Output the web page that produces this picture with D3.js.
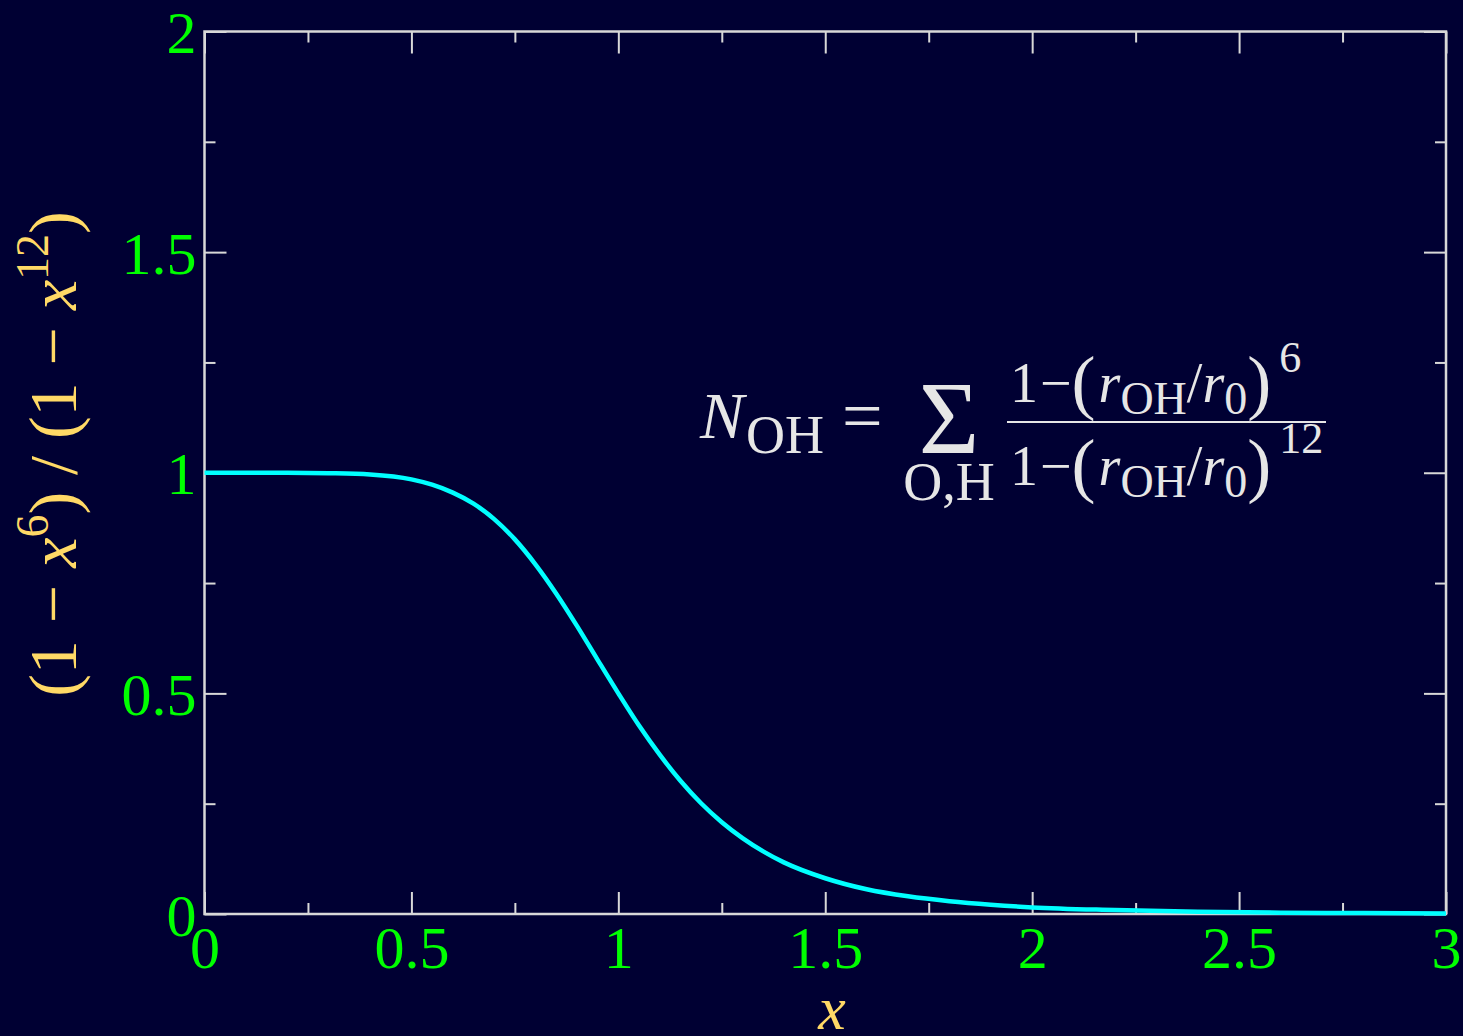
<!DOCTYPE html>
<html>
<head>
<meta charset="utf-8">
<script src="https://cdn.jsdelivr.net/npm/d3@7"></script>
<style>
  html, body { margin: 0; padding: 0; background: #000033; }
  svg { display: block; }
</style>
</head>
<body>
<svg id="chart" width="1463" height="1036"></svg>
<script>
// Switching function (1 - x^6) / (1 - x^12), sampled along x
const xValues = [0, 0.1, 0.2, 0.3, 0.4, 0.5, 0.55, 0.6, 0.65, 0.7, 0.75, 0.8, 0.85, 0.9, 0.95,
                 1.0, 1.05, 1.1, 1.15, 1.2, 1.25, 1.3, 1.35, 1.4, 1.5, 1.6, 1.7, 1.8, 1.9,
                 2.0, 2.2, 2.4, 2.6, 2.8, 3.0];
const yValues = [1.000, 1.000, 1.000, 0.999, 0.996, 0.985, 0.973, 0.955, 0.930, 0.895, 0.849, 0.792, 0.726, 0.653, 0.576,
                 0.500, 0.427, 0.361, 0.302, 0.251, 0.208, 0.172, 0.142, 0.117, 0.081, 0.056, 0.040, 0.029, 0.021,
                 0.015, 0.009, 0.005, 0.003, 0.002, 0.001];

// Axis ticks and their labels
const xMajorTicks = [0, 0.5, 1, 1.5, 2, 2.5, 3];
const xTickLabels = ["0", "0.5", "1", "1.5", "2", "2.5", "3"];
const xMinorTicks = [0.25, 0.75, 1.25, 1.75, 2.25, 2.75];
const yMajorTicks = [0, 0.5, 1, 1.5, 2];
const yTickLabels = ["0", "0.5", "1", "1.5", "2"];
const yMinorTicks = [0.25, 0.75, 1.25, 1.75];

const COLORS = {
  bg: "#000033",
  frame: "#d8d8d8",
  tick: "#00ff00",
  label: "#ffd966",
  curve: "#00ffff",
  note: "#e6e6e6"
};
const SERIF = "'Liberation Serif', 'DejaVu Serif', serif";

const svg = d3.select("#chart");
svg.append("rect").attr("width", 1463).attr("height", 1036).attr("fill", COLORS.bg);

const plot = { left: 204.5, right: 1446, top: 31.5, bottom: 914 };
const x = d3.scaleLinear().domain([0, 3]).range([plot.left, plot.right]);
const y = d3.scaleLinear().domain([0, 2]).range([plot.bottom, plot.top]);

const MAJOR = 22, MINOR = 11;

function styleAxis(g) {
  g.select(".domain").remove();
  g.selectAll(".tick line").attr("stroke", COLORS.frame).attr("stroke-width", 2);
}

// bottom axis with labels
const gBottom = svg.append("g").attr("transform", `translate(0,${plot.bottom})`)
  .call(d3.axisBottom(x).tickValues(xMajorTicks).tickSize(-MAJOR)
        .tickFormat((d, i) => xTickLabels[i]));
styleAxis(gBottom);
gBottom.selectAll(".tick text")
  .attr("y", 54).attr("dy", 0)
  .attr("fill", COLORS.tick).attr("font-family", SERIF).attr("font-size", 60);
svg.append("g").attr("transform", `translate(0,${plot.bottom})`)
  .call(d3.axisBottom(x).tickValues(xMinorTicks).tickSize(-MINOR).tickFormat(""))
  .call(styleAxis);

// top axis
svg.append("g").attr("transform", `translate(0,${plot.top})`)
  .call(d3.axisTop(x).tickValues(xMajorTicks).tickSize(-MAJOR).tickFormat(""))
  .call(styleAxis);
svg.append("g").attr("transform", `translate(0,${plot.top})`)
  .call(d3.axisTop(x).tickValues(xMinorTicks).tickSize(-MINOR).tickFormat(""))
  .call(styleAxis);

// left axis with labels
const gLeft = svg.append("g").attr("transform", `translate(${plot.left},0)`)
  .call(d3.axisLeft(y).tickValues(yMajorTicks).tickSize(-MAJOR)
        .tickFormat((d, i) => yTickLabels[i]));
styleAxis(gLeft);
gLeft.selectAll(".tick text")
  .attr("x", -8).attr("y", 21).attr("dy", 0)
  .attr("fill", COLORS.tick).attr("font-family", SERIF).attr("font-size", 60);
svg.append("g").attr("transform", `translate(${plot.left},0)`)
  .call(d3.axisLeft(y).tickValues(yMinorTicks).tickSize(-MINOR).tickFormat(""))
  .call(styleAxis);

// right axis
svg.append("g").attr("transform", `translate(${plot.right},0)`)
  .call(d3.axisRight(y).tickValues(yMajorTicks).tickSize(-MAJOR).tickFormat(""))
  .call(styleAxis);
svg.append("g").attr("transform", `translate(${plot.right},0)`)
  .call(d3.axisRight(y).tickValues(yMinorTicks).tickSize(-MINOR).tickFormat(""))
  .call(styleAxis);

// frame
svg.append("rect")
  .attr("x", plot.left).attr("y", plot.top)
  .attr("width", plot.right - plot.left).attr("height", plot.bottom - plot.top)
  .attr("fill", "none").attr("stroke", COLORS.frame).attr("stroke-width", 2.5);

// curve
const points = xValues.map((v, i) => [v, yValues[i]]);
svg.append("path")
  .datum(points)
  .attr("fill", "none")
  .attr("stroke", COLORS.curve)
  .attr("stroke-width", 4.5)
  .attr("d", d3.line().x(d => x(d[0])).y(d => y(d[1])).curve(d3.curveMonotoneX));

// axis titles
svg.append("text")
  .attr("x", 832).attr("y", 1029)
  .attr("text-anchor", "middle")
  .attr("font-family", SERIF).attr("font-style", "italic").attr("font-size", 62)
  .attr("fill", COLORS.label)
  .text("x");

const yTitle = svg.append("text")
  .attr("transform", "translate(76,454) rotate(-90)")
  .attr("text-anchor", "middle")
  .attr("font-family", SERIF).attr("font-size", 68)
  .attr("fill", COLORS.label);
yTitle.append("tspan").text("(1 − ");
yTitle.append("tspan").attr("font-style", "italic").text("x");
yTitle.append("tspan").attr("font-size", 46).attr("dy", -28).text("6");
yTitle.append("tspan").attr("dy", 28).text(") / (1 − ");
yTitle.append("tspan").attr("font-style", "italic").text("x");
yTitle.append("tspan").attr("font-size", 46).attr("dy", -28).text("12");
yTitle.append("tspan").attr("dy", 28).text(")");

// coordination number formula
const note = svg.append("g")
  .attr("transform", "translate(700,438)")
  .attr("font-family", SERIF).attr("fill", COLORS.note);

note.append("text").attr("x", 0).attr("y", 0)
  .attr("font-style", "italic").attr("font-size", 66).text("N");
note.append("text").attr("x", 46).attr("y", 15)
  .attr("font-size", 54).text("OH");
note.append("text").attr("x", 142).attr("y", 2)
  .attr("font-size", 72).text("=");
note.append("text").attr("x", 249).attr("y", 15)
  .attr("text-anchor", "middle").attr("font-size", 104).text("Σ");
note.append("text").attr("x", 249).attr("y", 62)
  .attr("text-anchor", "middle").attr("font-size", 54).text("O,H");

note.append("line")
  .attr("x1", 307).attr("x2", 626).attr("y1", -16).attr("y2", -16)
  .attr("stroke", COLORS.note).attr("stroke-width", 2);

function ratioTerm(baseY, power, supRise) {
  const t = note.append("text").attr("x", 310).attr("y", baseY).attr("font-size", 56);
  t.append("tspan").text("1");
  t.append("tspan").attr("dx", 2).text("−");
  t.append("tspan").attr("font-size", 72).attr("dy", 4).text("(");
  t.append("tspan").attr("dy", -4).attr("dx", 3).attr("font-style", "italic").text("r");
  t.append("tspan").attr("font-size", 46).attr("dy", 12).text("OH");
  t.append("tspan").attr("dy", -12).text("/");
  t.append("tspan").attr("font-style", "italic").text("r");
  t.append("tspan").attr("font-size", 46).attr("dy", 12).text("0");
  t.append("tspan").attr("font-size", 72).attr("dy", -8).text(")");
  t.append("tspan").attr("font-size", 44).attr("dx", 8).attr("dy", -supRise - 4).text(power);
}
ratioTerm(-36, "6", 30);
ratioTerm(47, "12", 32);
</script>
</body>
</html>
